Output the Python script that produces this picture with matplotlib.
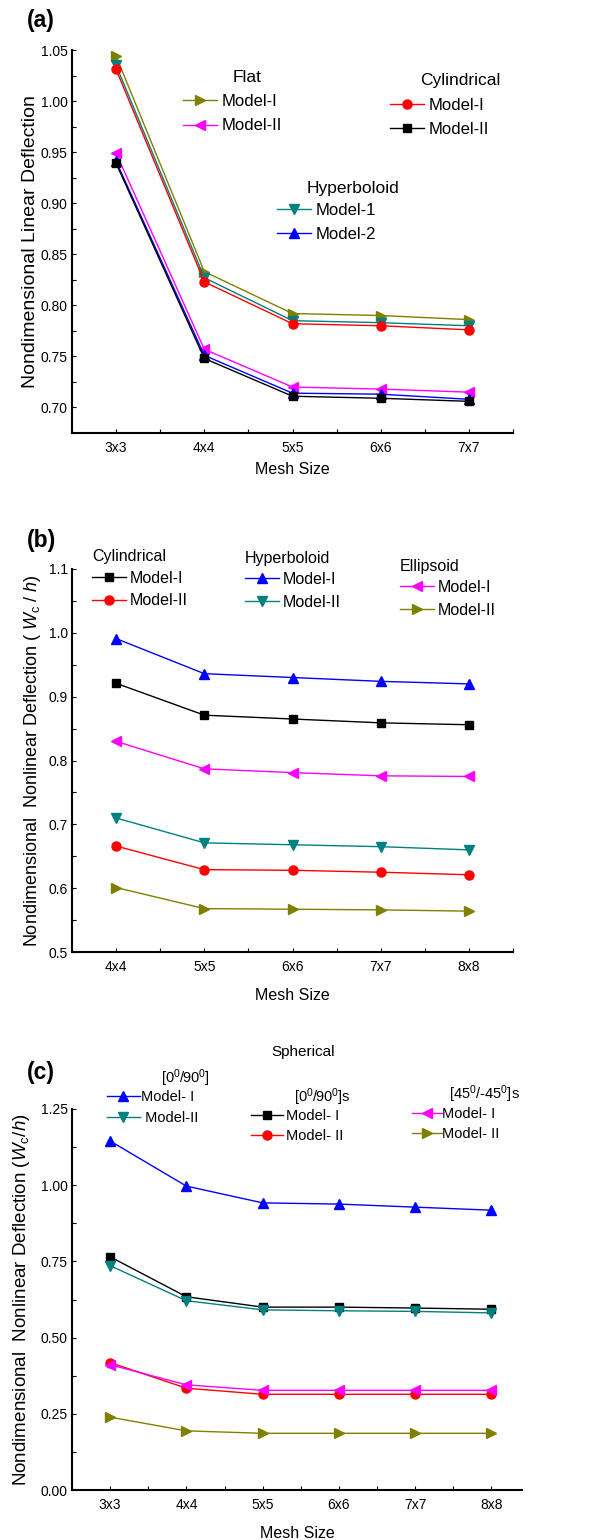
import matplotlib
matplotlib.use('Agg')
import matplotlib.pyplot as plt
from matplotlib.lines import Line2D
from matplotlib.legend import Legend
from matplotlib.ticker import MultipleLocator, FixedLocator

FONT = 'Liberation Sans'
plt.rcParams['font.family'] = [FONT, 'DejaVu Sans']
plt.rcParams['mathtext.fontset'] = 'custom'
plt.rcParams['mathtext.rm'] = FONT
plt.rcParams['mathtext.it'] = FONT + ':italic'

# ---------------- data ----------------
mesh_a = ['3x3', '4x4', '5x5', '6x6', '7x7']
a_flat_m1 = [1.044, 0.833, 0.792, 0.790, 0.786]
a_flat_m2 = [0.949, 0.757, 0.720, 0.718, 0.715]
a_cyl_m1 = [1.031, 0.823, 0.782, 0.780, 0.776]
a_cyl_m2 = [0.939, 0.748, 0.711, 0.709, 0.706]
a_hyp_m1 = [1.035, 0.827, 0.785, 0.783, 0.780]
a_hyp_m2 = [0.941, 0.751, 0.714, 0.713, 0.708]

mesh_b = ['4x4', '5x5', '6x6', '7x7', '8x8']
b_cyl_m1 = [0.921, 0.871, 0.865, 0.859, 0.856]
b_cyl_m2 = [0.666, 0.629, 0.628, 0.625, 0.621]
b_hyp_m1 = [0.991, 0.936, 0.930, 0.924, 0.920]
b_hyp_m2 = [0.710, 0.671, 0.668, 0.665, 0.660]
b_ell_m1 = [0.830, 0.787, 0.781, 0.776, 0.775]
b_ell_m2 = [0.601, 0.568, 0.567, 0.566, 0.564]

mesh_c = ['3x3', '4x4', '5x5', '6x6', '7x7', '8x8']
c_090_m1 = [1.145, 0.997, 0.942, 0.938, 0.928, 0.918]
c_090_m2 = [0.736, 0.621, 0.591, 0.588, 0.586, 0.581]
c_090s_m1 = [0.765, 0.634, 0.600, 0.600, 0.597, 0.593]
c_090s_m2 = [0.418, 0.334, 0.314, 0.314, 0.314, 0.314]
c_45_m1 = [0.411, 0.345, 0.327, 0.327, 0.327, 0.327]
c_45_m2 = [0.239, 0.194, 0.186, 0.186, 0.186, 0.186]

OLIVE = '#808000'
MAG = '#FF00FF'
RED = '#FF0000'
BLK = '#000000'
TEAL = '#008080'
BLUE = '#0000FF'

W, H = 616, 1540
fig = plt.figure(figsize=(W / 100, H / 100), dpi=100)


def rect(l, t, r, b):
    return [l / W, 1 - b / H, (r - l) / W, (b - t) / H]


def style(ax, cats, ylim, ymaj, ymin, fmt):
    n = len(cats)
    ax.set_xticks(list(range(n)))
    ax.set_xticklabels(cats)
    ax.xaxis.set_minor_locator(FixedLocator([i + 0.5 for i in range(-1, n)]))
    ax.set_ylim(*ylim)
    ax.yaxis.set_major_locator(MultipleLocator(ymaj))
    ax.yaxis.set_minor_locator(MultipleLocator(ymin))
    ax.yaxis.set_major_formatter(plt.FormatStrFormatter(fmt))
    for s in ['top', 'right']:
        ax.spines[s].set_visible(False)
    for s in ['left', 'bottom']:
        ax.spines[s].set_linewidth(1.5)
    ax.tick_params(which='both', direction='in', length=3, width=0.8, labelsize=10)
    ax.tick_params(axis='x', pad=6)
    ax.tick_params(axis='y', pad=3)


def handle(color, marker, ms):
    return Line2D([], [], color=color, marker=marker, markersize=ms, lw=1.0)


def add_leg(ax, hs, labels, x, ymid, fs, hl, tp, ls):
    leg = Legend(ax, hs, labels, loc='center left', bbox_to_anchor=(x / W, 1 - ymid / H),
                 bbox_transform=fig.transFigure, frameon=False, fontsize=fs,
                 borderpad=0, borderaxespad=0, handlelength=hl, handletextpad=tp,
                 labelspacing=ls, numpoints=1)
    ax.add_artist(leg)
    return leg


MS = 7
LBL = 11.5

# ---------------- (a) ----------------
axa = fig.add_axes(rect(72, 50, 513, 433))
xa = range(len(mesh_a))
axa.plot(xa, a_flat_m1, color=OLIVE, marker='>', ms=MS, lw=1.0)
axa.plot(xa, a_flat_m2, color=MAG, marker='<', ms=MS, lw=1.0)
axa.plot(xa, a_hyp_m1, color=TEAL, marker='v', ms=MS, lw=1.0)
axa.plot(xa, a_cyl_m1, color=RED, marker='o', ms=MS - 0.5, lw=1.0)
axa.plot(xa, a_hyp_m2, color=BLUE, marker='^', ms=MS, lw=1.0)
axa.plot(xa, a_cyl_m2, color=BLK, marker='s', ms=MS - 1.5, lw=1.0)
axa.set_xlim(-0.5, 4.5)
style(axa, mesh_a, (0.675, 1.05), 0.05, 0.025, '%.2f')
axa.set_xlabel('Mesh Size', fontsize=LBL)
axa.set_ylabel('Nondimensional Linear Deflection', fontsize=14)
axa.yaxis.set_label_coords((31 - 72) / 441, 0.5)
axa.xaxis.set_label_coords(0.5, (433 - 470) / 383)
axa.xaxis.label.set_va('center')
axa.yaxis.label.set_va('center')

FA = 12
add_leg(axa, [handle(OLIVE, '>', MS), handle(MAG, '<', MS)], ['Model-I', 'Model-II'],
        183, 113.5, FA, 2.04, 0.3, 0.6)
add_leg(axa, [handle(RED, 'o', MS - 0.5), handle(BLK, 's', MS - 1.5)], ['Model-I', 'Model-II'],
        390, 117.5, FA, 2.04, 0.3, 0.55)
add_leg(axa, [handle(TEAL, 'v', MS), handle(BLUE, '^', MS)], ['Model-1', 'Model-2'],
        277, 222.5, FA, 2.04, 0.3, 0.55)
fig.text(247 / W, 1 - 78 / H, 'Flat', fontsize=FA + 0.5, ha='center', va='center')
fig.text(460 / W, 1 - 81 / H, 'Cylindrical', fontsize=FA + 0.5, ha='center', va='center')
fig.text(353 / W, 1 - 188 / H, 'Hyperboloid', fontsize=FA + 0.5, ha='center', va='center')
fig.text(27 / W, 1 - 20 / H, '(a)', fontsize=16.5, fontweight='bold', ha='left', va='center')

# ---------------- (b) ----------------
axb = fig.add_axes(rect(72, 569, 513, 952))
xb = range(len(mesh_b))
axb.plot(xb, b_hyp_m1, color=BLUE, marker='^', ms=MS, lw=1.0)
axb.plot(xb, b_cyl_m1, color=BLK, marker='s', ms=MS - 1, lw=1.0)
axb.plot(xb, b_ell_m1, color=MAG, marker='<', ms=MS, lw=1.0)
axb.plot(xb, b_hyp_m2, color=TEAL, marker='v', ms=MS, lw=1.0)
axb.plot(xb, b_cyl_m2, color=RED, marker='o', ms=MS - 0.5, lw=1.0)
axb.plot(xb, b_ell_m2, color=OLIVE, marker='>', ms=MS, lw=1.0)
axb.set_xlim(-0.5, 4.5)
style(axb, mesh_b, (0.5, 1.1), 0.1, 0.05, '%.1f')
axb.set_xlabel('Mesh Size', fontsize=LBL)
axb.set_ylabel(r'Nondimensional  Nonlinear Deflection ( $W_{\mathrm{c}}$ / $h$)', fontsize=13)
axb.yaxis.set_label_coords((33 - 72) / 441, 0.5)
axb.xaxis.set_label_coords(0.5, (952 - 995) / 383)
axb.xaxis.label.set_va('center')
axb.yaxis.label.set_va('center')

FB = 11.5
add_leg(axb, [handle(BLK, 's', MS - 1), handle(RED, 'o', MS - 0.5)], ['Model-I', 'Model-II'],
        92, 589.5, FB, 2.1, 0.25, 0.5)
add_leg(axb, [handle(BLUE, '^', MS), handle(TEAL, 'v', MS)], ['Model-I', 'Model-II'],
        245, 591, FB, 2.1, 0.25, 0.5)
add_leg(axb, [handle(MAG, '<', MS), handle(OLIVE, '>', MS)], ['Model-I', 'Model-II'],
        400, 599, FB, 2.1, 0.25, 0.5)
fig.text(92 / W, 1 - 556 / H, 'Cylindrical', fontsize=FB, ha='left', va='center')
fig.text(245 / W, 1 - 558 / H, 'Hyperboloid', fontsize=FB, ha='left', va='center')
fig.text(400 / W, 1 - 566 / H, 'Ellipsoid', fontsize=FB, ha='left', va='center')
fig.text(27 / W, 1 - 541 / H, '(b)', fontsize=16.5, fontweight='bold', ha='left', va='center')

# ---------------- (c) ----------------
axc = fig.add_axes(rect(72, 1109, 522, 1490))
xc = range(len(mesh_c))
axc.plot(xc, c_090_m1, color=BLUE, marker='^', ms=MS, lw=1.0)
axc.plot(xc, c_090s_m1, color=BLK, marker='s', ms=MS - 1, lw=1.0)
axc.plot(xc, c_090_m2, color=TEAL, marker='v', ms=MS, lw=1.0)
axc.plot(xc, c_090s_m2, color=RED, marker='o', ms=MS - 0.5, lw=1.0)
axc.plot(xc, c_45_m1, color=MAG, marker='<', ms=MS, lw=1.0)
axc.plot(xc, c_45_m2, color=OLIVE, marker='>', ms=MS, lw=1.0)
axc.set_xlim(-0.5, 5.4)
style(axc, mesh_c, (0.0, 1.25), 0.25, 0.125, '%.2f')
axc.set_xlabel('Mesh Size', fontsize=LBL)
axc.set_ylabel(r'Nondimensional  Nonlinear Deflection ($W_{\mathrm{c}}$/$h$)', fontsize=13.5)
axc.yaxis.set_label_coords((22 - 72) / 450, 0.5)
axc.xaxis.set_label_coords(0.5, (1490 - 1533) / 381)
axc.xaxis.label.set_va('center')
axc.yaxis.label.set_va('center')

FC = 10.5
add_leg(axc, [handle(BLUE, '^', MS), handle(TEAL, 'v', MS)], ['Model- I', ' Model-II'],
        107, 1107.5, FC, 2.26, 0.05, 0.45)
add_leg(axc, [handle(BLK, 's', MS - 1), handle(RED, 'o', MS - 0.5)], ['Model- I', 'Model- II'],
        251, 1126, FC, 2.2, 0.2, 0.45)
add_leg(axc, [handle(MAG, '<', MS), handle(OLIVE, '>', MS)], ['Model- I', 'Model- II'],
        412, 1124, FC, 2.05, 0.02, 0.45)
fig.text(185 / W, 1 - 1078 / H, r'[0$^0$/90$^0$]', fontsize=FC, ha='center', va='center')
fig.text(322 / W, 1 - 1097 / H, r'[0$^0$/90$^0$]s', fontsize=FC, ha='center', va='center')
fig.text(484 / W, 1 - 1094 / H, r'[45$^0$/-45$^0$]s', fontsize=FC, ha='center', va='center')
fig.text(303 / W, 1 - 1052 / H, 'Spherical', fontsize=11, ha='center', va='center')
fig.text(27 / W, 1 - 1072 / H, '(c)', fontsize=16.5, fontweight='bold', ha='left', va='center')

fig.savefig('out.png', dpi=100)
